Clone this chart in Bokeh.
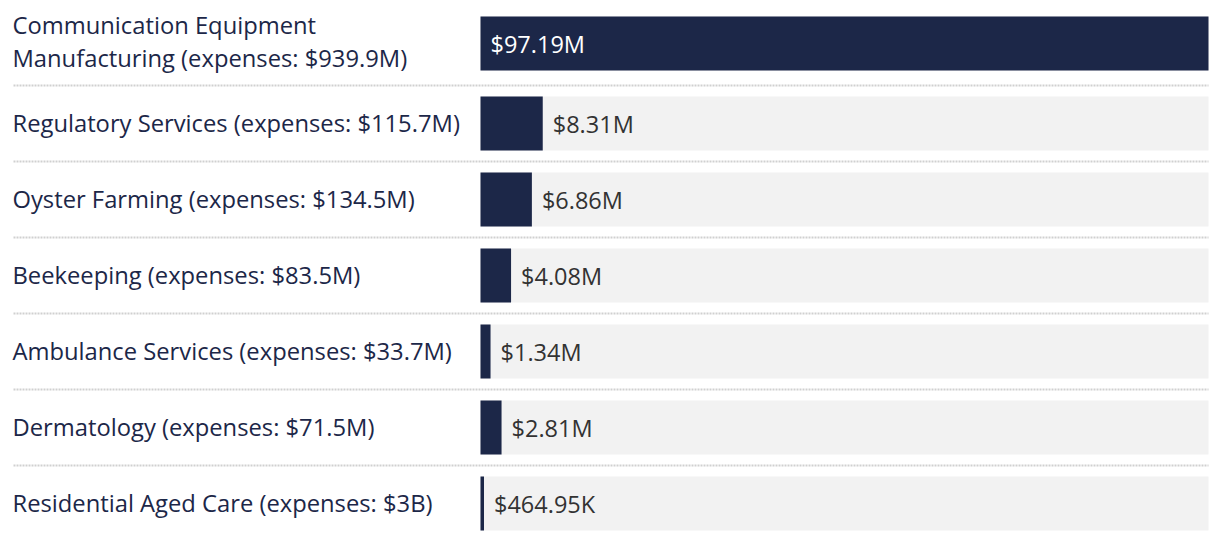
from bokeh.plotting import figure
from bokeh.models import Range1d, ColumnDataSource
from bokeh.core.properties import value
from bokeh.embed import file_html
from bokeh.resources import INLINE

categories = [
    "Communication Equipment\nManufacturing (expenses: $939.9M)",
    "Regulatory Services (expenses: $115.7M)",
    "Oyster Farming (expenses: $134.5M)",
    "Beekeeping (expenses: $83.5M)",
    "Ambulance Services (expenses: $33.7M)",
    "Dermatology (expenses: $71.5M)",
    "Residential Aged Care (expenses: $3B)",
]
values_m = [97.19, 8.31, 6.86, 4.08, 1.34, 2.81, 0.46495]
value_labels = ["$97.19M", "$8.31M", "$6.86M", "$4.08M", "$1.34M", "$2.81M", "$464.95K"]

NAVY = "#1c2748"
FONT = "Open Sans"

W, H = 1212, 532
bar_left_px = 480      # frame px where value 0 sits
bar_right_px = 1208    # frame px where max value sits
vmax = max(values_m)
scale = (bar_right_px - bar_left_px) / vmax
x_start = -bar_left_px / scale
x_end = vmax + (W - bar_right_px) / scale

# row layout (pixel units, top-down): taller rows for multi-line labels
base_row_h = 76
extra_per_line = 8
row_h = [base_row_h + extra_per_line * (c.count("\n")) for c in categories]
tops = []
t = 1
for h in row_h:
    tops.append(t)
    t += h
centers = [tp + h / 2 for tp, h in zip(tops, row_h)]
seps = tops[1:]

p = figure(width=W, height=H, output_backend="svg", toolbar_location=None,
           x_range=Range1d(x_start, x_end), y_range=Range1d(H, 0),
           min_border=0, min_border_left=0, min_border_right=0,
           min_border_top=0, min_border_bottom=0)
p.axis.visible = False
p.grid.visible = False
p.outline_line_color = None
p.background_fill_color = "white"
p.border_fill_color = "white"

n = len(categories)
inside = [v > 0.5 * vmax for v in values_m]
src = ColumnDataSource(dict(
    y=centers,
    cat=categories,
    v=values_m,
    zero=[0] * n,
    full=[vmax] * n,
    lab=value_labels,
    lx=[0 if ins else v for ins, v in zip(inside, values_m)],
    lcol=["white" if ins else "#333333" for ins in inside],
    yoff=[-2 if "\n" in c else -1 for c in categories],
))

bh = 54
p.hbar(y="y", left="zero", right="full", height=bh, source=src,
       fill_color="#f2f2f2", line_color=None)
p.hbar(y="y", left="zero", right="v", height=bh, source=src,
       fill_color=NAVY, line_color=None)

# separators
label_left = x_start + 13 / scale
p.segment(x0=[label_left] * len(seps), x1=[vmax] * len(seps), y0=seps, y1=seps,
          line_color="#d0d0d0", line_width=2, line_dash="2 1")

# category labels
p.text(x="zero", y="y", text="cat", source=src, x_offset=-468, y_offset="yoff",
       text_font=value(FONT), text_font_size="23.75px", text_color=NAVY,
       text_align="left", text_baseline="middle", text_line_height=1.05)

# value labels
p.text(x="lx", y="y", text="lab", source=src, x_offset=10,
       text_font=value(FONT), text_font_size="23.5px", text_color="lcol",
       text_align="left", text_baseline="middle")

open("out.html", "w").write(file_html(p, INLINE))
